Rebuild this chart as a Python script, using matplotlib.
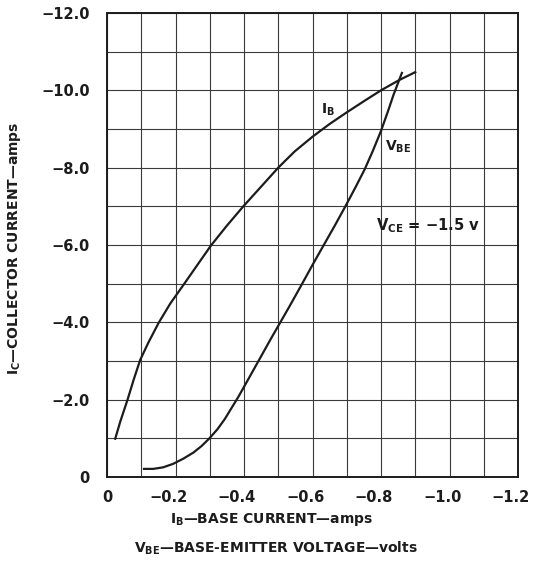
import matplotlib
matplotlib.use("Agg")
import matplotlib.pyplot as plt
from matplotlib.ticker import MultipleLocator, NullFormatter

plt.rcParams['font.family'] = ['DejaVu Sans']
plt.rcParams['font.weight'] = 'bold'
plt.rcParams['mathtext.fontset'] = 'custom'
plt.rcParams['mathtext.rm'] = 'DejaVu Sans:bold'
plt.rcParams['mathtext.bf'] = 'DejaVu Sans:bold'
plt.rcParams['axes.unicode_minus'] = True

# I_B curve (x = base current, amps; y = collector current, amps)
ib_x = [-0.024, -0.039, -0.060, -0.078, -0.097, -0.121, -0.151, -0.185, -0.225, -0.262,
        -0.303, -0.350, -0.398, -0.446, -0.500, -0.548, -0.600, -0.650, -0.700, -0.752,
        -0.800, -0.854, -0.900]
ib_y = [-0.99, -1.44, -2.00, -2.52, -3.03, -3.48, -3.99, -4.49, -4.99, -5.46,
        -5.98, -6.50, -7.00, -7.47, -8.00, -8.42, -8.80, -9.13, -9.43, -9.73,
        -10.00, -10.27, -10.47]

# V_BE curve (x = base-emitter voltage, volts; y = collector current, amps)
vbe_x = [-0.108, -0.135, -0.164, -0.193, -0.222, -0.252, -0.276, -0.298, -0.322, -0.344,
         -0.384, -0.417, -0.441, -0.475, -0.508, -0.532, -0.568, -0.601, -0.631, -0.665,
         -0.696, -0.726, -0.752, -0.776, -0.800, -0.820, -0.836, -0.861]
vbe_y = [-0.21, -0.21, -0.25, -0.34, -0.47, -0.63, -0.80, -0.99, -1.23, -1.50,
         -2.08, -2.60, -2.98, -3.52, -4.03, -4.40, -4.97, -5.50, -5.97, -6.50,
         -7.00, -7.50, -7.95, -8.43, -8.95, -9.45, -9.87, -10.45]

x_ticks = [0, -0.2, -0.4, -0.6, -0.8, -1.0, -1.2]
x_tick_labels = ['0', '\u22120.2', '\u22120.4', '\u22120.6', '\u22120.8', '\u22121.0', '\u22121.2']
y_ticks = [0, -2, -4, -6, -8, -10, -12]
y_tick_labels = ['0', '\u22122.0', '\u22124.0', '\u22126.0', '\u22128.0', '\u221210.0', '\u221212.0']

INK = '#1c1c1c'
W, H = 533, 562
fig = plt.figure(figsize=(W / 100, H / 100), dpi=100)
fig.patch.set_facecolor('white')
ax = fig.add_axes([107 / W, 1 - 477 / H, (518 - 107) / W, (477 - 13) / H])

ax.plot(ib_x, ib_y, color=INK, lw=1.6, solid_joinstyle='round')
ax.plot(vbe_x, vbe_y, color=INK, lw=1.6, solid_joinstyle='round')

ax.set_xlim(0, -1.2)
ax.set_ylim(0, -12)
ax.set_xticks(x_ticks)
ax.xaxis.set_major_formatter(NullFormatter())
ax.set_yticks(y_ticks)
ax.set_yticklabels(y_tick_labels)
ax.xaxis.set_minor_locator(MultipleLocator(0.1))
ax.yaxis.set_minor_locator(MultipleLocator(1.0))
ax.grid(True, which='both', color='#3a3a3a', lw=0.8)
ax.set_axisbelow(True)
ax.tick_params(which='both', length=0)
ax.tick_params(axis='y', pad=12.5, labelsize=10.5, labelcolor=INK)
for s in ax.spines.values():
    s.set_linewidth(1.4)
    s.set_color(INK)

# x tick labels: numeric part centred on the tick, minus sign hanging to the left
for xv, lab in zip(x_ticks, x_tick_labels):
    if xv == 0:
        ax.annotate(lab, xy=(xv, 0), xycoords=('data', 'axes fraction'),
                    xytext=(0, -20), textcoords='offset pixels',
                    ha='center', va='center', fontsize=10.5, color=INK)
    else:
        ax.annotate(lab, xy=(xv, 0), xycoords=('data', 'axes fraction'),
                    xytext=(12, -20), textcoords='offset pixels',
                    ha='right', va='center', fontsize=10.5, color=INK)

ax.text(-0.625, -9.5, r'I$_{\mathrm{B}}$', fontsize=10, ha='left', va='center', color=INK)
ax.text(-0.812, -8.55, r'V$_{\mathrm{BE}}$', fontsize=10, ha='left', va='center', color=INK)
ax.text(-0.785, -6.5, 'V$_{\\mathrm{CE}}$ = \u22121.5 v',
        fontsize=10.6, ha='left', va='center', color=INK)

fig.text(272 / W, 1 - 519 / H, r'I$_{\mathrm{B}}$—BASE CURRENT—amps', fontsize=10,
         ha='center', va='center', color=INK)
fig.text(276 / W, 1 - 548 / H, r'V$_{\mathrm{BE}}$—BASE-EMITTER VOLTAGE—volts', fontsize=10,
         ha='center', va='center', color=INK)
fig.text(15 / W, 1 - 248 / H, r'I$_{\mathrm{C}}$—COLLECTOR CURRENT—amps', fontsize=10,
         ha='center', va='center', rotation=90, color=INK)

fig.savefig('out.png', dpi=100, facecolor='white')
